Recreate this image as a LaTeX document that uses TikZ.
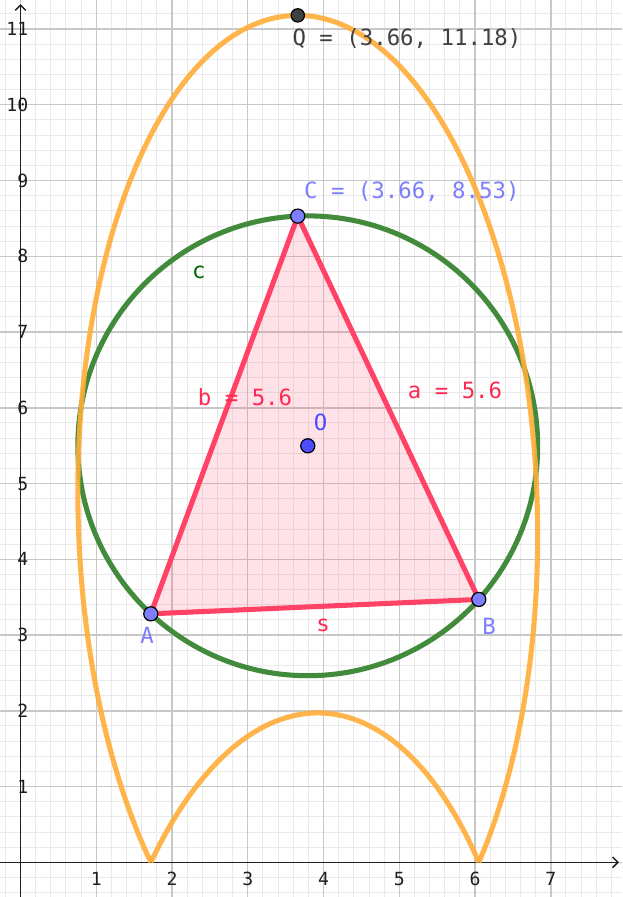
\documentclass[tikz,border=0pt]{standalone}
\usepackage{fontspec}
\setmonofont{DejaVu Sans Mono}
\usetikzlibrary{arrows.meta}
\definecolor{gridmajor}{RGB}{200,200,200}
\definecolor{gridminor}{RGB}{234,234,234}
\definecolor{axiscol}{RGB}{30,30,30}
\definecolor{orangecol}{RGB}{255,174,56}
\definecolor{greencol}{RGB}{66,138,60}
\definecolor{redcol}{RGB}{255,66,102}
\definecolor{ptcol}{RGB}{125,125,255}
\definecolor{ocol}{RGB}{77,77,255}
\definecolor{qcol}{RGB}{64,64,64}
\definecolor{labgreen}{RGB}{0,100,0}
\definecolor{labred}{RGB}{255,40,80}
\tikzset{
  axisline/.style={axiscol, line width=0.55pt, -{Straight Barb[length=2pt,width=4pt]}},
  ptnode/.style={circle, draw=black, line width=0.45pt, fill=ptcol, minimum size=5.3pt, inner sep=0pt},
  lab/.style={font=\ttfamily\fontsize{8.4}{10}\selectfont, inner sep=0pt},
  ticklab/.style={font=\ttfamily\fontsize{6.8}{8}\selectfont, inner sep=0pt, axiscol},
  side/.style={redcol, line width=1.9pt, line join=round},
  locus/.style={orangecol, line width=1.9pt, opacity=0.9, line join=round}
}
\begin{document}
\begin{tikzpicture}
\useasboundingbox (-0.2706,-0.458) rectangle (7.9406,11.383);
\fill[white] (-0.2706,-0.458) rectangle (7.9406,11.383);
\begin{scope}
\clip (-0.2706,-0.458) rectangle (7.9406,11.383);
\draw[gridminor, line width=0.35pt] (-0.4,-0.6) grid[step=0.2] (8.2,11.6);
\draw[gridmajor, line width=0.55pt] (-1,-1) grid[step=1] (9,12);
\end{scope}
% axes
\coordinate (xs) at (-0.2706,0);
\coordinate (xe) at (7.90,0);
\coordinate (ys) at (0,-0.458);
\coordinate (ye) at (0,11.33);
\draw[axisline] (xs) -- (xe);
\draw[axisline] (ys) -- (ye);
\foreach \i in {1,...,7} \node[ticklab] (xl\i) at (\i,-0.22) {\i};
\foreach \i in {1,...,11} \node[ticklab, anchor=east] (yl\i) at (0.11,\i) {\i};
% main points
\coordinate (A) at (1.72,3.28);
\coordinate (B) at (6.05,3.47);
\coordinate (C) at (3.66,8.53);
\coordinate (O) at (3.792,5.498);
\coordinate (Q) at (3.66,11.18);
% triangle fill
\fill[redcol, fill opacity=0.15] (A) -- (B) -- (C) -- cycle;
% circumcircle
\draw[greencol, line width=1.9pt] (O) circle (3.035);
% locus curve
\draw[locus] plot[domain=-41.92:226.94, samples=240, smooth]
  ({3.792+3.035*cos(\x)}, {abs(4.604+6.576*sin(\x-2.513))});
\draw[locus] plot[domain=226.94:318.08, samples=90, smooth]
  ({3.792+3.035*cos(\x)}, {abs(4.604+6.576*sin(\x-2.513))});
% triangle sides
\draw[side] (A) -- (B);
\draw[side] (B) -- (C);
\draw[side] (C) -- (A);
% point markers
\node[ptnode] (Ap) at (A) {};
\node[ptnode] (Bp) at (B) {};
\node[ptnode] (Cp) at (C) {};
\node[ptnode, fill=ocol] (Op) at (O) {};
\node[ptnode, fill=qcol, minimum size=5pt] (Qp) at (Q) {};
% labels
\node[lab, anchor=west, text=qcol] (Ql) at (3.584,10.875) {Q = (3.66, 11.18)};
\node[lab, anchor=west, text=ptcol] (Cl) at (3.737,8.853) {C = (3.66, 8.53)};
\node[lab, text=labred] (bl) at (2.964,6.143) {b = 5.6};
\node[lab, text=labred] (al) at (5.736,6.235) {a = 5.6};
\node[lab, text=ocol] (Ol) at (3.962,5.813) {O};
\node[lab, text=ptcol] (Al) at (1.670,3.00) {A};
\node[lab, text=ptcol] (Bl) at (6.185,3.12) {B};
\node[lab, text=labred] (sl) at (3.993,3.133) {s};
\node[lab, text=labgreen] (cl) at (2.356,7.793) {c};
\end{tikzpicture}
\end{document}
